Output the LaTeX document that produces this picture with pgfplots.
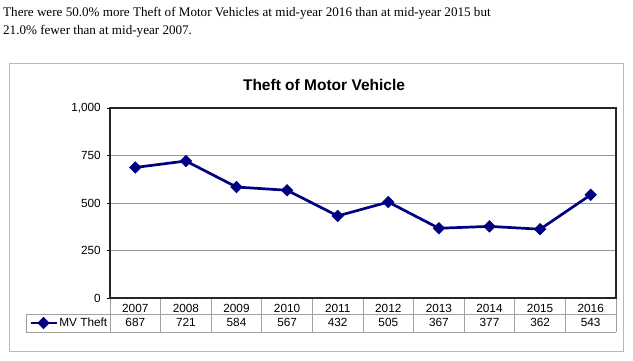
\documentclass[border=0pt]{standalone}
\usepackage{pgfplots}
\pgfplotsset{compat=1.18}
\usepackage{fontspec}
\setmainfont{Liberation Sans}
\newfontfamily\serif{Liberation Serif}
\definecolor{navy}{RGB}{0,0,128}
\definecolor{gridgray}{RGB}{150,150,150}
\definecolor{tablegray}{RGB}{160,160,160}
\definecolor{framegray}{RGB}{185,185,185}
\pgfplotstableread{
idx year value
0 2007 687
1 2008 721
2 2009 584
3 2010 567
4 2011 432
5 2012 505
6 2013 367
7 2014 377
8 2015 362
9 2016 543
}\mvdata
\begin{document}
\begin{tikzpicture}[x=1pt,y=1pt]
\path[use as bounding box] (0,0) rectangle (633,361);
\node[anchor=base west, inner sep=0pt, font=\serif\fontsize{13.1}{18}\selectfont] at (3,344) {There were 50.0\% more Theft of Motor Vehicles at mid-year 2016 than at mid-year 2015 but};
\node[anchor=base west, inner sep=0pt, font=\serif\fontsize{13.1}{18}\selectfont] at (3,326) {21.0\% fewer than at mid-year 2007.};
\draw[framegray, line width=0.9pt] (9.5,298) rectangle (623.5,10);
\node[anchor=base, inner sep=0pt, font=\bfseries\fontsize{15.5}{18}\selectfont] at (324,270) {Theft of Motor Vehicle};
% table grid
\draw[tablegray, line width=0.7pt] (26,47) -- (616,47);
\draw[tablegray, line width=0.7pt] (26,29) -- (616,29);
\draw[tablegray, line width=0.7pt] (26,29) -- (26,47);
\foreach \k in {0,...,10} {
  \draw[tablegray, line width=0.7pt] ({110+50.6*\k},63) -- ({110+50.6*\k},29);
}
\foreach \v [count=\i from 0] in {687,721,584,567,432,505,367,377,362,543} {
  \node[anchor=base, inner sep=0pt, font=\fontsize{11.8}{13}\selectfont] at ({135.3+50.6*\i},34) {\v};
}
\begin{axis}[
  at={(110pt,63pt)}, anchor=south west,
  scale only axis, width=506pt, height=190pt,
  xmin=-0.5, xmax=9.5, ymin=0, ymax=1000,
  ytick={0,250,500,750,1000}, yticklabels={0,250,500,750,{1,000}},
  xtick={0,...,9}, xticklabels={2007,2008,2009,2010,2011,2012,2013,2014,2015,2016},
  ytick pos=left,
  ymajorgrids, major grid style={gridgray, line width=0.8pt},
  axis line style={black!85, line width=1.3pt},
  tick align=outside, major tick length=3pt,
  ytick style={black, line width=0.8pt},
  xtick style={draw=none},
  tick label style={font=\fontsize{11.8}{13}\selectfont},
  yticklabel style={anchor=east, inner sep=0pt, xshift=-6pt},
  xticklabel style={anchor=base, inner sep=0pt, yshift=-12pt},
  clip=false,
  legend style={at={(axis description cs:-0.1601,-0.1316)}, anchor=west, draw=none, fill=none,
    inner sep=0pt, font=\fontsize{11.8}{13}\selectfont,
    nodes={inner sep=1.5pt}},
  legend image code/.code={\draw[mark repeat=2, mark phase=2, #1] plot coordinates {(0pt,0pt) (13pt,0pt) (26pt,0pt)};},
]
\addplot[navy, line width=2.7pt, mark=square*, mark size=4.1pt,
  mark options={rotate=45, solid, line width=0.5pt}] table[x=idx, y=value] {\mvdata};
\addlegendentry{MV Theft}
\end{axis}
\end{tikzpicture}
\end{document}
